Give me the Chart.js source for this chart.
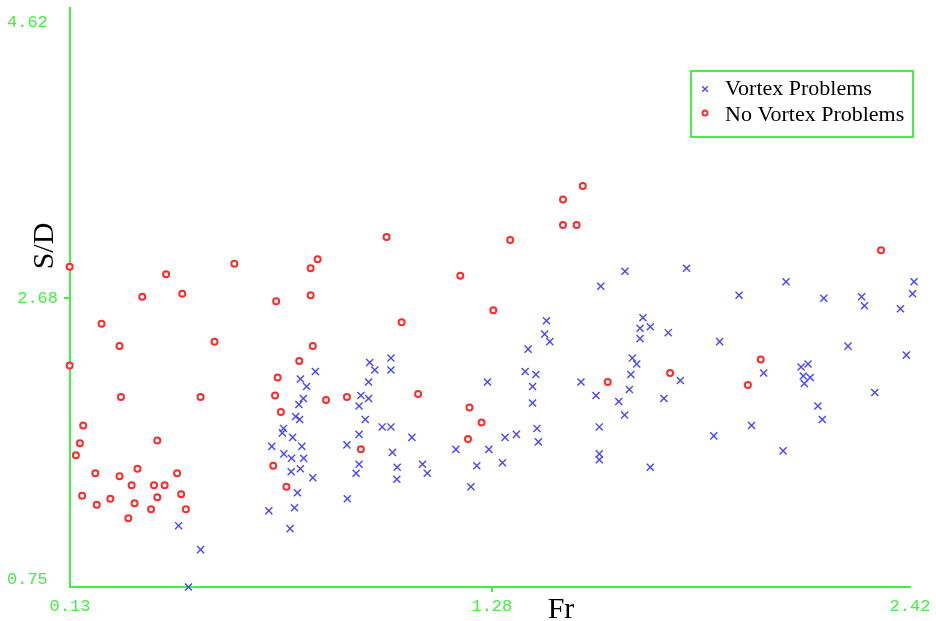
<!DOCTYPE html>
<html>
<head>
<meta charset="utf-8">
<script src="https://cdn.jsdelivr.net/npm/chart.js@4.4.0/dist/chart.umd.min.js"></script>
<style>
    html, body { margin: 0; padding: 0; background: #fff; }
    #wrap { width: 936px; height: 621px; }
</style>
</head>
<body>
<div id="wrap"><canvas id="chart" width="936" height="621"></canvas></div>
<script>
// Axis ticks
const xTicks = [0.13, 1.28, 2.42];
const xTickLabels = ['0.13', '1.28', '2.42'];
const yTicks = [0.75, 2.68, 4.62];
const yTickLabels = ['0.75', '2.68', '4.62'];

// Vortex Problems (blue crosses)
const vortexFr = [
    0.799, 0.758, 0.775, 0.766, 0.754, 0.745, 0.756, 0.712, 0.709, 0.737,
    0.680, 0.762, 0.713, 0.734, 0.767, 0.758, 0.733, 0.792, 0.750, 0.742,
    0.672, 0.730, 0.426, 0.486, 0.453, 1.577, 1.429, 1.424, 1.438, 1.379,
    1.005, 0.947, 0.961, 1.005, 1.371, 1.400, 1.268, 1.523, 0.944, 1.391,
    0.923, 0.944, 1.564, 1.626, 1.391, 0.918, 0.935, 0.981, 1.005, 1.573,
    1.403, 0.918, 1.062, 1.316, 1.347, 1.407, 0.885, 1.182, 1.272, 1.009,
    1.309, 0.918, 1.573, 1.573, 1.022, 1.239, 1.091, 0.910, 1.021, 1.104,
    1.223, 0.886, 1.643, 1.811, 2.082, 1.954, 2.185, 2.288, 2.296, 2.394,
    2.431, 2.427, 1.692, 1.684, 1.712, 1.684, 1.761, 1.901, 2.251, 2.410,
    1.663, 1.675, 2.123, 2.142, 1.659, 1.794, 2.021, 2.129, 2.148, 2.132,
    1.655, 1.749, 1.642, 2.324, 2.169, 2.181, 1.988, 1.885, 2.074, 1.712
];
const vortexSD = [
    2.19, 2.14, 2.09, 2.01, 1.97, 1.89, 1.87, 1.81, 1.78, 1.75,
    1.69, 1.69, 1.64, 1.61, 1.61, 1.54, 1.52, 1.48, 1.38, 1.28,
    1.26, 1.14, 1.16, 1.00, 0.75, 2.76, 2.53, 2.44, 2.39, 2.34,
    2.28, 2.25, 2.20, 2.20, 2.19, 2.17, 2.12, 2.12, 2.12, 2.09,
    2.03, 2.01, 2.03, 1.99, 1.98, 1.96, 1.87, 1.82, 1.82, 1.82,
    1.81, 1.77, 1.75, 1.75, 1.77, 1.72, 1.70, 1.67, 1.67, 1.65,
    1.58, 1.57, 1.64, 1.60, 1.55, 1.56, 1.57, 1.51, 1.47, 1.51,
    1.42, 1.34, 2.86, 2.88, 2.79, 2.70, 2.68, 2.69, 2.63, 2.61,
    2.79, 2.71, 2.55, 2.48, 2.49, 2.41, 2.45, 2.39, 2.36, 2.30,
    2.28, 2.24, 2.22, 2.24, 2.17, 2.13, 2.18, 2.16, 2.15, 2.11,
    2.07, 2.01, 1.90, 2.05, 1.96, 1.87, 1.83, 1.76, 1.66, 1.55
];

// No Vortex Problems (red circles)
const noVortexFr = [
    0.129, 0.327, 0.392, 0.436, 0.578, 0.692, 0.786, 0.805, 0.786, 0.216,
    0.265, 0.524, 0.129, 0.269, 0.486, 0.166, 0.157, 0.146, 0.368, 0.199,
    0.265, 0.314, 0.422, 0.298, 0.359, 0.388, 0.163, 0.203, 0.240, 0.306,
    0.368, 0.433, 0.351, 0.446, 0.289, 0.792, 0.755, 0.696, 0.689, 0.705,
    0.684, 0.720, 1.528, 1.474, 1.474, 1.511, 0.993, 1.330, 1.194, 1.284,
    1.034, 0.828, 0.885, 1.079, 1.596, 1.219, 1.252, 1.215, 0.923, 2.341,
    2.013, 1.766, 1.978
];
const noVortexSD = [
    2.89, 2.69, 2.84, 2.71, 2.91, 2.66, 2.88, 2.94, 2.70, 2.51,
    2.36, 2.39, 2.23, 2.02, 2.02, 1.83, 1.71, 1.63, 1.73, 1.51,
    1.49, 1.54, 1.51, 1.43, 1.43, 1.43, 1.36, 1.30, 1.34, 1.31,
    1.35, 1.37, 1.27, 1.27, 1.21, 2.36, 2.26, 2.15, 2.03, 1.92,
    1.56, 1.42, 3.43, 3.34, 3.17, 3.17, 3.09, 3.07, 2.83, 2.60,
    2.52, 2.00, 2.02, 2.04, 2.12, 1.95, 1.85, 1.74, 1.67, 3.00,
    2.27, 2.18, 2.10
];

const GREEN = '#44ee44';
const BLUE = '#4646ff';
const RED = '#ff2a2a';

const toPoints = (xs, ys) => xs.map((x, i) => ({ x: x, y: ys[i] }));

// axis titles + boxed legend, drawn on top of the plot
const extras = {
    id: 'extras',
    afterDraw(chart) {
        const ctx = chart.ctx;
        ctx.save();
        ctx.fillStyle = '#000';
        ctx.font = '30px "Liberation Serif", serif';
        ctx.textAlign = 'center';
        ctx.textBaseline = 'alphabetic';
        ctx.fillText('Fr', 561, 618);
        ctx.translate(53, 246);
        ctx.rotate(-Math.PI / 2);
        ctx.fillText('S/D', 0, 0);
        ctx.restore();

        ctx.save();
        ctx.strokeStyle = GREEN;
        ctx.lineWidth = 2;
        ctx.strokeRect(691, 71, 222, 66);

        ctx.strokeStyle = BLUE;
        ctx.lineWidth = 1.3;
        Chart.helpers.drawPoint(ctx, { pointStyle: 'crossRot', radius: 4, borderWidth: 1.3, rotation: 0 }, 705, 89);
        ctx.strokeStyle = RED;
        ctx.fillStyle = '#fff';
        ctx.lineWidth = 2;
        Chart.helpers.drawPoint(ctx, { pointStyle: 'circle', radius: 2.5, borderWidth: 2, rotation: 0 }, 705, 113);

        ctx.fillStyle = '#000';
        ctx.font = '22px "Liberation Serif", serif';
        ctx.textAlign = 'left';
        ctx.textBaseline = 'alphabetic';
        ctx.fillText('Vortex Problems', 725, 95);
        ctx.fillText('No Vortex Problems', 725, 121);
        ctx.restore();
    }
};

new Chart(document.getElementById('chart'), {
    type: 'scatter',
    data: {
        datasets: [
            {
                label: 'Vortex Problems',
                data: toPoints(vortexFr, vortexSD),
                pointStyle: 'crossRot',
                pointRadius: 5,
                borderWidth: 1.4,
                borderColor: BLUE,
                backgroundColor: BLUE,
                clip: false
            },
            {
                label: 'No Vortex Problems',
                data: toPoints(noVortexFr, noVortexSD),
                pointStyle: 'circle',
                pointRadius: 3,
                borderWidth: 2,
                borderColor: RED,
                backgroundColor: '#fff',
                clip: false
            }
        ]
    },
    options: {
        responsive: false,
        animation: false,
        events: [],
        layout: { padding: { top: 8, right: 26, left: 0, bottom: 0 } },
        plugins: { legend: { display: false }, tooltip: { enabled: false } },
        scales: {
            x: {
                type: 'linear',
                min: 0.13,
                max: 2.42,
                afterBuildTicks: s => { s.ticks = xTicks.map(v => ({ value: v })); },
                afterFit: s => { s.height = 34; s.paddingLeft = 0; s.paddingRight = 0; },
                border: { color: GREEN, width: 2 },
                grid: {
                    drawOnChartArea: false,
                    tickLength: 5,
                    lineWidth: 2,
                    color: c => c.index === 1 ? GREEN : 'rgba(0,0,0,0)'
                },
                ticks: {
                    autoSkip: false,
                    maxRotation: 0,
                    padding: 4,
                    color: GREEN,
                    font: { family: '"Liberation Mono", monospace', size: 17 },
                    callback: (v, i) => xTickLabels[i]
                }
            },
            y: {
                type: 'linear',
                min: 0.75,
                max: 4.62,
                afterBuildTicks: s => { s.ticks = yTicks.map(v => ({ value: v })); },
                afterFit: s => { s.width = 70; s.paddingTop = 0; s.paddingBottom = 0; },
                border: { color: GREEN, width: 2 },
                grid: {
                    drawOnChartArea: false,
                    tickLength: 6,
                    lineWidth: 2,
                    color: c => c.index === 1 ? GREEN : 'rgba(0,0,0,0)'
                },
                ticks: {
                    autoSkip: false,
                    padding: 6,
                    color: GREEN,
                    font: { family: '"Liberation Mono", monospace', size: 17, lineHeight: 0.85 },
                    // end labels sit a little inside the axis, like the original
                    callback: (v, i) => {
                        if (i === 0) return [yTickLabels[0] + ' ', ''];
                        if (i === 2) return ['', '', yTickLabels[2] + ' '];
                        return yTickLabels[i];
                    }
                }
            }
        }
    },
    plugins: [extras]
});
</script>
</body>
</html>
